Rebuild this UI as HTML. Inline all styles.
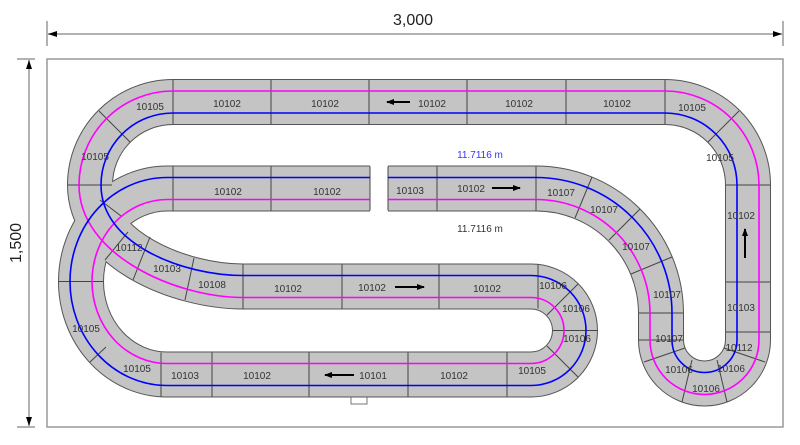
<!DOCTYPE html>
<html><head><meta charset="utf-8"><style>
html,body{margin:0;padding:0;background:#fff}
svg{display:block}
text{font-family:"Liberation Sans",sans-serif}
</style></head><body>
<svg width="800" height="445" viewBox="0 0 800 445" xmlns="http://www.w3.org/2000/svg">
<defs>
<marker id="ah" markerWidth="8" markerHeight="6" refX="7" refY="3" orient="auto" markerUnits="userSpaceOnUse"><path d="M0,0 L8,3 L0,6 z" fill="#000"/></marker>
</defs>
<g stroke="#999" stroke-width="1.5" fill="none">
<line x1="47" y1="21" x2="47" y2="46"/><line x1="783" y1="21" x2="783" y2="46"/>
<line x1="48" y1="34" x2="782" y2="34"/>
<line x1="17" y1="59" x2="35" y2="59"/><line x1="17" y1="427" x2="35" y2="427"/>
<line x1="29" y1="60" x2="29" y2="426"/>
</g>
<g fill="#000"><path d="M48,34 l9,-3 v6 z"/><path d="M782,34 l-9,-3 v6 z"/><path d="M29,60 l-3,9 h6 z"/><path d="M29,426 l-3,-9 h6 z"/></g>
<text x="413" y="25" font-size="16" text-anchor="middle" fill="#222">3,000</text>
<text x="0" y="0" font-size="16" text-anchor="middle" fill="#222" transform="translate(21,243) rotate(-90)">1,500</text>
<rect x="47" y="59" width="736" height="368" fill="none" stroke="#999" stroke-width="1.5"/>
<rect x="351" y="396" width="16" height="8" fill="#fff" stroke="#777" stroke-width="1"/>

<g fill="none" stroke-linejoin="round">
<g stroke="#555" stroke-width="46">
<path d="M173,102 L665,102 A83,83 0 0 1 748,185 L748,340 A43.5,43.5 0 0 1 661,340 L661,313 A125,125 0 0 0 536,188.5 L388,188.5"/>
<path d="M370,188.5 L167,188.5 A86,93 0 0 0 81,281.5 A86,93 0 0 0 167,374.5 L531,374.5 A44,44 0 0 0 531,286.5 L243,286.5 C180,286.5 90,250 90,185 A83,83 0 0 1 173,102"/>
</g>
<g stroke="#c4c4c4" stroke-width="44">
<path d="M173,102 L665,102 A83,83 0 0 1 748,185 L748,340 A43.5,43.5 0 0 1 661,340 L661,313 A125,125 0 0 0 536,188.5 L388,188.5"/>
<path d="M370,188.5 L167,188.5 A86,93 0 0 0 81,281.5 A86,93 0 0 0 167,374.5 L531,374.5 A44,44 0 0 0 531,286.5 L243,286.5 C180,286.5 90,250 90,185 A83,83 0 0 1 173,102"/>
</g>
<g stroke="#444" stroke-width="1">
<path d="M173,80V124M271,80V124M369,80V124M467,80V124M566,80V124M665,80V124"/>
<path d="M173,166.5V210.5M271,166.5V210.5M370,166.5V210.5M388,166.5V210.5M437,166.5V210.5M536,166.5V210.5"/>
<path d="M243,264.5V308.5M342,264.5V308.5M439,264.5V308.5M538,264.5V308.5"/>
<path d="M161,352.5V396.5M212,352.5V396.5M309,352.5V396.5M408,352.5V396.5M507,352.5V396.5"/>
<path d="M726,185H770M726,282H770M726,332H770"/>
<path d="M130,142L99,111M68,185H112M708,142L739,111"/>
<path d="M575,218L592,177M609,240L640,209M631,274L672,257M639,313H683M639,340H683"/>
<path d="M692,360L682,402M717,360L727,402M724,348L765,362M685,348L644,362"/>
<path d="M547,315L578,284M553,330.5H597M547,346L578,377"/>
<path d="M59,281.5H103M106,347L90,362M121,216L100,200"/>
<path d="M150,237L133,280M194,258L185,300M128,232L105,260"/>
</g>
<g stroke="#ff00ff" stroke-width="1.6">
<path d="M173,91 L665,91 A94,94 0 0 1 759,185 L759,340 A54.5,54.5 0 0 1 650,340 L650,313 A114,114 0 0 0 536,199.5 L388,199.5"/>
<path d="M370,199.5 L167,199.5 A75,82 0 0 0 92,281.5 A75,82 0 0 0 167,363.5 L531,363.5 A33,33 0 0 0 531,297.5 L243,297.5 C176,297.5 79,255 79,185 A94,94 0 0 1 173,91"/>
</g>
<g stroke="#0000ff" stroke-width="1.6">
<path d="M173,113 L665,113 A72,72 0 0 1 737,185 L737,340 A32.5,32.5 0 0 1 672,340 L672,313 A136,136 0 0 0 536,177.5 L388,177.5"/>
<path d="M370,177.5 L167,177.5 A97,104 0 0 0 70,281.5 A97,104 0 0 0 167,385.5 L531,385.5 A55,55 0 0 0 531,275.5 L243,275.5 C184,275.5 101,245 101,185 A72,72 0 0 1 173,113"/>
</g>
</g>
<g stroke="#000" stroke-width="2" fill="none">
<line x1="410" y1="102" x2="387" y2="102" marker-end="url(#ah)"/>
<line x1="492" y1="188" x2="520" y2="188" marker-end="url(#ah)"/>
<line x1="745" y1="258" x2="745" y2="229" marker-end="url(#ah)"/>
<line x1="395" y1="287" x2="424" y2="287" marker-end="url(#ah)"/>
<line x1="354" y1="375" x2="325" y2="375" marker-end="url(#ah)"/>
</g>
<g font-size="10" fill="#333" text-anchor="middle">
<text x="150" y="110">10105</text><text x="227" y="107">10102</text><text x="325" y="107">10102</text><text x="432" y="107">10102</text><text x="519" y="107">10102</text><text x="617" y="107">10102</text><text x="692" y="111">10105</text>
<text x="95" y="160">10105</text><text x="720" y="161">10105</text>
<text x="228" y="195">10102</text><text x="327" y="195">10102</text><text x="410" y="194">10103</text><text x="471" y="192">10102</text>
<text x="561" y="196">10107</text><text x="604" y="213">10107</text><text x="636" y="250">10107</text><text x="667" y="298">10107</text><text x="669" y="342">10107</text>
<text x="741" y="219">10102</text><text x="741" y="311">10103</text><text x="739" y="351">10112</text>
<text x="679" y="373">10106</text><text x="731" y="372">10106</text><text x="706" y="392">10106</text>
<text x="129" y="251">10112</text><text x="167" y="272">10103</text><text x="212" y="288">10108</text>
<text x="288" y="292">10102</text><text x="372" y="291">10102</text><text x="487" y="292">10102</text>
<text x="553" y="289">10106</text><text x="576" y="312">10106</text><text x="577" y="342">10106</text>
<text x="86" y="332">10105</text><text x="137" y="372">10105</text><text x="185" y="379">10103</text><text x="257" y="379">10102</text><text x="373" y="379">10101</text><text x="454" y="379">10102</text><text x="532" y="374">10105</text>
<text x="480" y="158" fill="#3333ff">11.7116 m</text>
<text x="480" y="232" fill="#333">11.7116 m</text>
</g>
</svg>
</body></html>
